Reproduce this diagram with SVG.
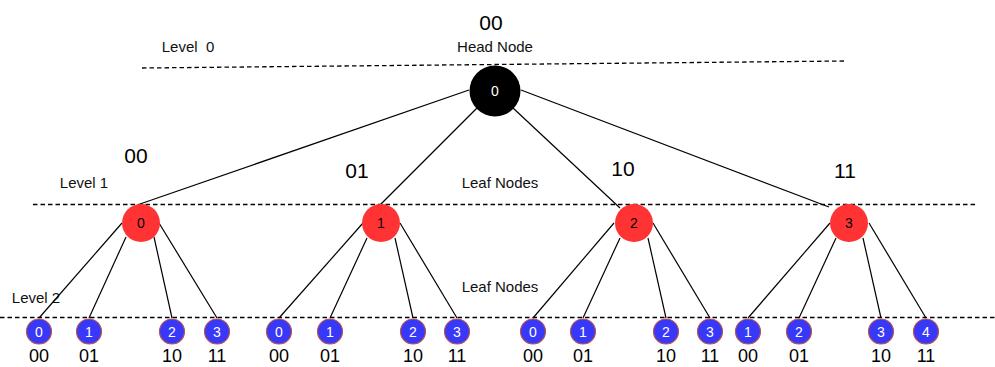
<svg xmlns="http://www.w3.org/2000/svg" width="995" height="367" viewBox="0 0 995 367">
  <style>
    text { font-family: "Liberation Sans", Arial, sans-serif; text-anchor: middle; }
    .lbl { font-size: 15px; fill: #111; white-space: pre; }
    .code { font-size: 21px; fill: #000; }
    .bcode { font-size: 18px; fill: #000; }
    .dash { stroke: #000; stroke-width: 1.3; stroke-dasharray: 4.5 3; fill: none; }
    .edge { stroke: #000; stroke-width: 1.2; fill: none; }
    .head { fill: #000; }
    .mid { fill: #ff3333; }
    .leaf { fill: #3838f8; stroke: #b85450; stroke-width: 1.2; }
    .hnum { font-size: 14px; fill: #fff; }
    .mnum { font-size: 14px; fill: #000; }
    .lnum { font-size: 14px; fill: #fff; }
  </style>

  <!-- level separators -->
  <g id="levels">
    <line class="dash" x1="142" y1="68" x2="846" y2="61"/>
    <line class="dash" x1="33" y1="204.5" x2="978" y2="204.5"/>
    <line class="dash" x1="0" y1="317.5" x2="995" y2="317.5"/>
  </g>

  <!-- free labels -->
  <g id="labels">
    <text class="lbl" x="188" y="52" xml:space="preserve">Level  0</text>
    <text class="lbl" x="84" y="188">Level 1</text>
    <text class="lbl" x="36" y="303">Level 2</text>
    <text class="lbl" x="495" y="52">Head Node</text>
    <text class="lbl" x="500" y="188">Leaf Nodes</text>
    <text class="lbl" x="500" y="292">Leaf Nodes</text>
    <text class="code" x="491" y="30">00</text>
    <text class="code" x="136" y="163">00</text>
    <text class="code" x="357" y="178">01</text>
    <text class="code" x="623" y="176">10</text>
    <text class="code" x="845" y="178">11</text>
  </g>

  <!-- connectors -->
  <g id="connectors">
    <line class="edge" x1="469" y1="90" x2="140" y2="204"/>
    <line class="edge" x1="477" y1="108" x2="381" y2="204"/>
    <line class="edge" x1="513" y1="108" x2="620" y2="208"/>
    <line class="edge" x1="521" y1="90" x2="829" y2="207"/>

    <line class="edge" x1="122" y1="223" x2="39" y2="318"/>
    <line class="edge" x1="126" y1="237" x2="89" y2="318"/>
    <line class="edge" x1="154" y1="237" x2="172" y2="318"/>
    <line class="edge" x1="159" y1="223" x2="217" y2="318"/>

    <line class="edge" x1="363" y1="223" x2="279" y2="318"/>
    <line class="edge" x1="367" y1="238" x2="330" y2="318"/>
    <line class="edge" x1="395" y1="238" x2="413" y2="318"/>
    <line class="edge" x1="400" y1="223" x2="457" y2="318"/>

    <line class="edge" x1="614" y1="223" x2="533" y2="318"/>
    <line class="edge" x1="620" y1="238" x2="583" y2="318"/>
    <line class="edge" x1="648" y1="238" x2="666" y2="318"/>
    <line class="edge" x1="653" y1="223" x2="710" y2="318"/>

    <line class="edge" x1="830" y1="223" x2="748" y2="318"/>
    <line class="edge" x1="836" y1="238" x2="799" y2="318"/>
    <line class="edge" x1="863" y1="238" x2="881" y2="318"/>
    <line class="edge" x1="869" y1="223" x2="926" y2="318"/>
  </g>

  <!-- head -->
  <g id="head">
    <circle class="head" cx="495" cy="91" r="25.5"/>
    <text class="hnum" x="495" y="96">0</text>
  </g>

  <!-- level 1 nodes -->
  <g id="mid0"><circle class="mid" cx="141" cy="223" r="19"/><text class="mnum" x="141" y="228">0</text></g>
  <g id="mid1"><circle class="mid" cx="381" cy="223" r="19"/><text class="mnum" x="381" y="228">1</text></g>
  <g id="mid2"><circle class="mid" cx="634" cy="223" r="19"/><text class="mnum" x="634" y="228">2</text></g>
  <g id="mid3"><circle class="mid" cx="849" cy="223" r="19"/><text class="mnum" x="849" y="228">3</text></g>

  <!-- level 2 nodes -->
  <g id="leaf0-0"><circle class="leaf" cx="39" cy="331.5" r="12.5"/><text class="lnum" x="39" y="336.5">0</text><text class="bcode" x="39" y="362">00</text></g>
  <g id="leaf0-1"><circle class="leaf" cx="89" cy="331.5" r="12.5"/><text class="lnum" x="89" y="336.5">1</text><text class="bcode" x="89" y="362">01</text></g>
  <g id="leaf0-2"><circle class="leaf" cx="172" cy="331.5" r="12.5"/><text class="lnum" x="172" y="336.5">2</text><text class="bcode" x="172" y="362">10</text></g>
  <g id="leaf0-3"><circle class="leaf" cx="217" cy="331.5" r="12.5"/><text class="lnum" x="217" y="336.5">3</text><text class="bcode" x="217" y="362">11</text></g>

  <g id="leaf1-0"><circle class="leaf" cx="279" cy="331.5" r="12.5"/><text class="lnum" x="279" y="336.5">0</text><text class="bcode" x="279" y="362">00</text></g>
  <g id="leaf1-1"><circle class="leaf" cx="330" cy="331.5" r="12.5"/><text class="lnum" x="330" y="336.5">1</text><text class="bcode" x="330" y="362">01</text></g>
  <g id="leaf1-2"><circle class="leaf" cx="413" cy="331.5" r="12.5"/><text class="lnum" x="413" y="336.5">2</text><text class="bcode" x="413" y="362">10</text></g>
  <g id="leaf1-3"><circle class="leaf" cx="457" cy="331.5" r="12.5"/><text class="lnum" x="457" y="336.5">3</text><text class="bcode" x="457" y="362">11</text></g>

  <g id="leaf2-0"><circle class="leaf" cx="533" cy="331.5" r="12.5"/><text class="lnum" x="533" y="336.5">0</text><text class="bcode" x="533" y="362">00</text></g>
  <g id="leaf2-1"><circle class="leaf" cx="583" cy="331.5" r="12.5"/><text class="lnum" x="583" y="336.5">1</text><text class="bcode" x="583" y="362">01</text></g>
  <g id="leaf2-2"><circle class="leaf" cx="666" cy="331.5" r="12.5"/><text class="lnum" x="666" y="336.5">2</text><text class="bcode" x="666" y="362">10</text></g>
  <g id="leaf2-3"><circle class="leaf" cx="710" cy="331.5" r="12.5"/><text class="lnum" x="710" y="336.5">3</text><text class="bcode" x="710" y="362">11</text></g>

  <g id="leaf3-0"><circle class="leaf" cx="748" cy="331.5" r="12.5"/><text class="lnum" x="748" y="336.5">1</text><text class="bcode" x="748" y="362">00</text></g>
  <g id="leaf3-1"><circle class="leaf" cx="799" cy="331.5" r="12.5"/><text class="lnum" x="799" y="336.5">2</text><text class="bcode" x="799" y="362">01</text></g>
  <g id="leaf3-2"><circle class="leaf" cx="881" cy="331.5" r="12.5"/><text class="lnum" x="881" y="336.5">3</text><text class="bcode" x="881" y="362">10</text></g>
  <g id="leaf3-3"><circle class="leaf" cx="926" cy="331.5" r="12.5"/><text class="lnum" x="926" y="336.5">4</text><text class="bcode" x="926" y="362">11</text></g>
</svg>
